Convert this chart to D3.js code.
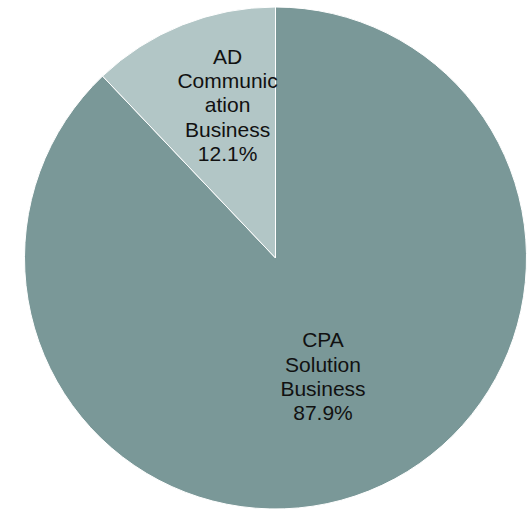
<!DOCTYPE html>
<html lang="en">
<head>
    <meta charset="UTF-8">
    <title>Business Segment Share</title>
    <script src="https://d3js.org/d3.v7.min.js"></script>
    <style>
        body {
            margin: 0;
            background-color: white;
        }
        .slice-label {
            font-family: "Liberation Sans", Arial, sans-serif;
            font-size: 21px;
            fill: #111;
        }
    </style>
</head>
<body>
    <div id="pie-chart"></div>

  <script>
    // Data
    const segments = ["CPA Solution Business", "AD Communication Business"];
    const shares = [87.9, 12.1];
    const labelLines = [
      ["CPA", "Solution", "Business", "87.9%"],
      ["AD", "Communic", "ation", "Business", "12.1%"]
    ];
    const colors = ["#7a9898", "#b2c6c6"];

    const width = 530;
    const height = 510;
    const cx = 275.5, cy = 258;
    const radius = 251;
    const lineHeight = 24.3;

    const svg = d3.select("#pie-chart")
      .append("svg")
      .attr("width", width)
      .attr("height", height)
      .append("g")
      .attr("transform", `translate(${cx},${cy})`);

    const pie = d3.pie().sort(null).value(d => d.value);
    const arcs = pie(segments.map((s, i) => ({ name: s, value: shares[i], lines: labelLines[i] })));

    const arc = d3.arc().innerRadius(0).outerRadius(radius);

    svg.selectAll(".slice")
      .data(arcs)
      .enter()
      .append("path")
      .attr("class", "slice")
      .attr("d", arc)
      .attr("fill", (d, i) => colors[i])
      .attr("stroke", "white")
      .attr("stroke-width", 1);

    // Label placement (fraction along slice, distance from centre)
    const labelPos = [
      { f: 0.5, r: 128 },
      { f: 0.6, r: 160 }
    ];

    const labels = svg.selectAll(".slice-label")
      .data(arcs)
      .enter()
      .append("text")
      .attr("class", "slice-label")
      .attr("text-anchor", "middle")
      .attr("transform", (d, i) => {
        const a = d.startAngle + (d.endAngle - d.startAngle) * labelPos[i].f;
        const x = Math.sin(a) * labelPos[i].r;
        const y = -Math.cos(a) * labelPos[i].r;
        return `translate(${x},${y})`;
      });

    labels.each(function(d) {
      const n = d.data.lines.length;
      d3.select(this).selectAll("tspan")
        .data(d.data.lines)
        .enter()
        .append("tspan")
        .attr("x", 0)
        .attr("y", (t, j) => (j - (n - 1) / 2) * lineHeight + 7)
        .text(t => t);
    });
  </script>
</body>
</html>
